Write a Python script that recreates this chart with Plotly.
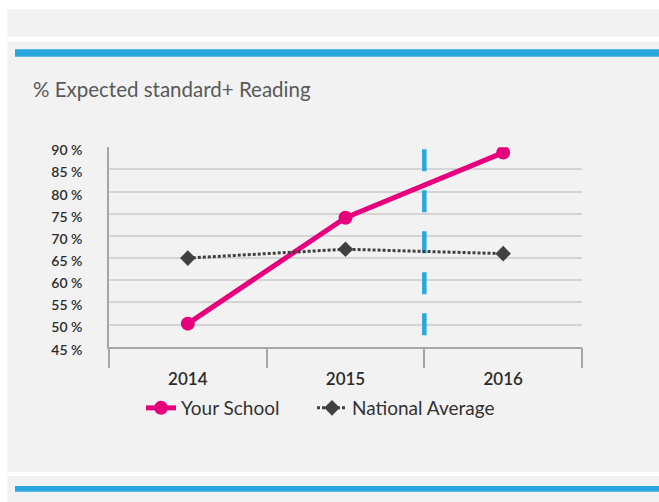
import plotly.graph_objects as go

W, H = 659, 502

years = ["2014", "2015", "2016"]
your_school = [50.2, 74.1, 88.8]
national_avg = [65.0, 67.0, 66.0]
y_ticks = [45, 50, 55, 60, 65, 70, 75, 80, 85, 90]
y_tick_labels = ["45 %", "50 %", "55 %", "60 %", "65 %", "70 %", "75 %", "80 %", "85 %", "90 %"]
title_text = "% Expected standard+ Reading"

def px_x(p):
    return p / W

def px_y(p):
    return 1 - p / H

FONT = "Lato, 'Open Sans', sans-serif"

fig = go.Figure()

fig.add_trace(go.Scatter(
    x=years, y=your_school, name="Your School", mode="lines+markers",
    line=dict(color="#e6007e", width=5),
    marker=dict(symbol="circle", size=14, color="#e6007e"),
    legend="legend",
))
fig.add_trace(go.Scatter(
    x=years, y=national_avg, name="National Average", mode="lines+markers",
    line=dict(color="#404040", width=3, dash="3px,2px"),
    marker=dict(symbol="diamond", size=12, color="#404040"),
    legend="legend2",
))

shapes = [
    # panels
    dict(type="rect", xref="paper", yref="paper", layer="below",
         x0=px_x(7.3), x1=1.0, y0=px_y(36.7), y1=px_y(9.3),
         fillcolor="#f2f2f2", line=dict(width=0)),
    dict(type="rect", xref="paper", yref="paper", layer="below",
         x0=px_x(7.3), x1=1.0, y0=px_y(471.7), y1=px_y(41.7),
         fillcolor="#f2f2f2", line=dict(width=0)),
    dict(type="rect", xref="paper", yref="paper", layer="below",
         x0=px_x(7.3), x1=1.0, y0=0, y1=px_y(476),
         fillcolor="#f2f2f2", line=dict(width=0)),
    # blue bars
    dict(type="rect", xref="paper", yref="paper", layer="below",
         x0=px_x(15), x1=1.0, y0=px_y(56.7), y1=px_y(49.3),
         fillcolor="#29a8e0", line=dict(width=0)),
    dict(type="rect", xref="paper", yref="paper", layer="below",
         x0=px_x(15), x1=1.0, y0=px_y(491.7), y1=px_y(486),
         fillcolor="#29a8e0", line=dict(width=0)),
    # dashed divider between 2015 and 2016
    dict(type="line", xref="x", yref="y", layer="between",
         x0=1.5, x1=1.5, y0=89.55, y1=47.26,
         line=dict(color="#29a8e0", width=4.5, dash="22px,19px")),
]

legend_font = dict(size=19, color="#333333", family=FONT)

fig.update_layout(
    width=W, height=H,
    margin=dict(l=0, r=0, t=0, b=0, autoexpand=False),
    paper_bgcolor="white",
    plot_bgcolor="rgba(0,0,0,0)",
    font=dict(family=FONT, color="#404040"),
    title=dict(text=title_text, x=px_x(33), xanchor="left", xref="paper",
               y=px_y(90), yanchor="middle", yref="paper",
               font=dict(size=20.5, color="#595959", family=FONT)),
    showlegend=True,
    legend=dict(orientation="h", x=px_x(141), xanchor="left",
                y=px_y(408), yanchor="middle", font=legend_font,
                bgcolor="rgba(0,0,0,0)"),
    legend2=dict(orientation="h", x=px_x(312), xanchor="left",
                 y=px_y(408), yanchor="middle", font=legend_font,
                 bgcolor="rgba(0,0,0,0)"),
    shapes=shapes,
    xaxis=dict(
        domain=[px_x(109), px_x(582)],
        type="category", range=[-0.5, 2.5],
        showgrid=False, zeroline=False,
        showline=True, linecolor="#a6a6a6", linewidth=1.5,
        ticks="outside", tickson="boundaries", ticklen=20, tickwidth=1.5,
        tickcolor="#a6a6a6", ticklabelstandoff=16,
        tickfont=dict(size=17, color="#2b2b2b", family=FONT, weight=600),
        fixedrange=True,
    ),
    yaxis=dict(
        domain=[px_y(346.7), px_y(147.3)],
        range=[45, 90], tickmode="array", tickvals=y_ticks, ticktext=y_tick_labels,
        showgrid=True, gridcolor="#d4d4d4", gridwidth=1.5,
        zeroline=False,
        showline=True, linecolor="#a6a6a6", linewidth=1.5,
        ticks="", ticklabelstandoff=22, ticklabelshift=3,
        tickfont=dict(size=14, color="#2b2b2b", family=FONT, weight=600),
        fixedrange=True,
    ),
)

post = ("document.body.style.margin='0';document.body.style.overflow='hidden';"
        "var d=document.getElementById('{plot_id}');d.style.position='absolute';"
        "d.style.left='0px';d.style.top='0px';")

fig.write_html("out.html", post_script=post, config={"displayModeBar": False})
